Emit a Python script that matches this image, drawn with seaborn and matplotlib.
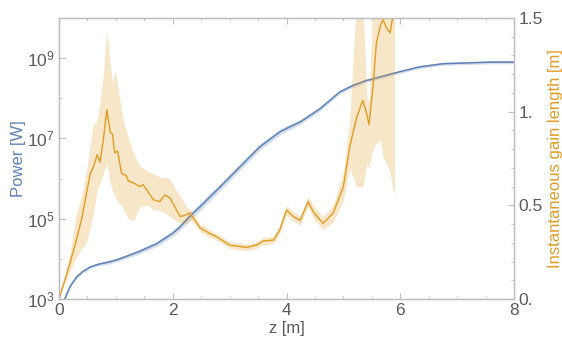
import numpy as np
import pandas as pd
import seaborn as sns
import matplotlib
matplotlib.use("Agg")
import matplotlib.pyplot as plt
from matplotlib.ticker import FixedLocator, FixedFormatter, LogFormatterMathtext, NullFormatter

# power along the undulator (log10 of W)
z_power = [0.08, 0.10, 0.20, 0.31, 0.42, 0.55, 0.70, 0.84, 1.00, 1.12, 1.42, 1.72, 2.00, 2.13,
           2.30, 2.48, 2.83, 3.18, 3.53, 3.88, 4.06, 4.24, 4.59, 4.94, 5.17, 5.40, 5.64, 5.99,
           6.34, 6.75, 7.17, 7.63, 8.00]
log_power = [2.90, 3.00, 3.33, 3.55, 3.69, 3.80, 3.87, 3.91, 3.97, 4.03, 4.19, 4.38, 4.64, 4.80,
             5.06, 5.30, 5.79, 6.29, 6.79, 7.16, 7.29, 7.41, 7.74, 8.16, 8.32, 8.44, 8.53, 8.66,
             8.78, 8.86, 8.88, 8.90, 8.90]
# half width of the power band (decades)
power_band = [0.03, 0.03, 0.03, 0.04, 0.04, 0.04, 0.04, 0.05, 0.05, 0.05, 0.06, 0.07, 0.08, 0.09,
              0.10, 0.10, 0.09, 0.09, 0.08, 0.08, 0.07, 0.06, 0.06, 0.05, 0.05, 0.04, 0.04, 0.04,
              0.04, 0.04, 0.04, 0.04, 0.04]

# instantaneous gain length [m]
z_gain = [0.00, 0.10, 0.20, 0.30, 0.40, 0.48, 0.55, 0.60, 0.67, 0.72, 0.78, 0.84, 0.90, 0.94,
          0.98, 1.03, 1.10, 1.18, 1.22, 1.31, 1.42, 1.48, 1.57, 1.66, 1.77, 1.86, 1.95, 2.04,
          2.13, 2.24, 2.30, 2.39, 2.48, 2.65, 2.77, 3.00, 3.30, 3.47, 3.59, 3.77, 3.88, 4.00,
          4.12, 4.24, 4.38, 4.47, 4.64, 4.82, 5.00, 5.11, 5.23, 5.34, 5.41, 5.45, 5.52, 5.58,
          5.65, 5.70, 5.76, 5.82, 5.86, 5.90]
gain = [0.00, 0.10, 0.20, 0.31, 0.43, 0.56, 0.67, 0.70, 0.77, 0.73, 0.85, 1.01, 0.89, 0.88,
        0.78, 0.79, 0.67, 0.66, 0.63, 0.62, 0.60, 0.61, 0.57, 0.53, 0.52, 0.555, 0.54, 0.49,
        0.44, 0.45, 0.46, 0.42, 0.38, 0.35, 0.333, 0.288, 0.276, 0.288, 0.31, 0.315, 0.368, 0.475,
        0.44, 0.42, 0.52, 0.466, 0.404, 0.458, 0.60, 0.81, 0.965, 1.06, 0.99, 0.93, 1.13, 1.365,
        1.46, 1.49, 1.445, 1.42, 1.49, 1.70]
gain_lo = [0.00, 0.08, 0.15, 0.22, 0.27, 0.30, 0.38, 0.45, 0.58, 0.62, 0.67, 0.72, 0.62, 0.58,
           0.55, 0.52, 0.50, 0.45, 0.43, 0.42, 0.49, 0.50, 0.50, 0.475, 0.475, 0.46, 0.44, 0.42,
           0.41, 0.40, 0.42, 0.40, 0.36, 0.33, 0.315, 0.27, 0.258, 0.27, 0.29, 0.295, 0.345, 0.45,
           0.415, 0.395, 0.49, 0.435, 0.37, 0.41, 0.53, 0.70, 0.60, 0.60, 0.72, 0.70, 0.80, 0.83,
           0.85, 0.75, 0.72, 0.68, 0.60, 0.55]
gain_hi = [0.00, 0.12, 0.26, 0.45, 0.55, 0.68, 0.82, 0.93, 0.95, 1.05, 1.20, 1.44, 1.25, 1.15,
           1.22, 1.15, 1.00, 0.90, 0.86, 0.78, 0.71, 0.70, 0.68, 0.67, 0.65, 0.65, 0.64, 0.59,
           0.55, 0.49, 0.48, 0.44, 0.40, 0.37, 0.35, 0.306, 0.294, 0.306, 0.33, 0.335, 0.39, 0.50,
           0.465, 0.445, 0.55, 0.50, 0.44, 0.50, 0.68, 0.95, 1.60, 1.60, 1.08, 1.05, 1.60, 1.60,
           1.60, 1.60, 1.60, 1.60, 1.60, 1.70]

x_ticks = [0, 2, 4, 6, 8]
power_ticks = [1e3, 1e5, 1e7, 1e9]
gain_ticks = [0, 0.5, 1.0, 1.5]
gain_tick_labels = ["0.", "0.5", "1.", "1.5"]

blue = "#5E81B5"
orange = "#E19C24"
frame = "#BDBDBD"
text_gray = "#5A5A5A"

sns.set_theme(style="ticks")
plt.rcParams["font.family"] = ["Liberation Sans", "DejaVu Sans"]
plt.rcParams["mathtext.fontset"] = "custom"
plt.rcParams["mathtext.rm"] = "Liberation Sans"
plt.rcParams["mathtext.it"] = "Liberation Sans"

df_p = pd.DataFrame({"z": z_power, "P": np.power(10.0, log_power)})
df_g = pd.DataFrame({"z": z_gain, "L": gain})

fig = plt.figure(figsize=(5.62, 3.45), dpi=100)
ax = fig.add_axes([0.105, 0.133, 0.8096, 0.815])
ax2 = ax.twinx()

# power
lp = np.array(log_power)
pb = np.array(power_band)
ax.fill_between(z_power, 10 ** (lp - pb), 10 ** (lp + pb), color=blue, alpha=0.25, lw=0)
sns.lineplot(data=df_p, x="z", y="P", ax=ax, color=blue, lw=1.1)
ax.set_yscale("log")
ax.set_ylim(1e3, 1e10)
ax.set_xlim(0, 8)

# gain length
ax2.fill_between(z_gain, gain_lo, gain_hi, color=orange, alpha=0.25, lw=0)
sns.lineplot(data=df_g, x="z", y="L", ax=ax2, color=orange, lw=1.0)
ax2.set_ylim(0, 1.5)
ax2.set_xlim(0, 8)

# ticks
ax.xaxis.set_major_locator(FixedLocator(x_ticks))
ax.xaxis.set_minor_locator(FixedLocator(np.arange(0, 8.01, 0.5)))
ax.yaxis.set_major_locator(FixedLocator(power_ticks))
ax.yaxis.set_minor_locator(FixedLocator([1e4, 1e6, 1e8, 1e10]))
ax.yaxis.set_major_formatter(LogFormatterMathtext())
ax.yaxis.set_minor_formatter(NullFormatter())
ax2.yaxis.set_major_locator(FixedLocator(gain_ticks))
ax2.yaxis.set_major_formatter(FixedFormatter(gain_tick_labels))
ax2.yaxis.set_minor_locator(FixedLocator(np.arange(0, 1.51, 0.1)))
ax2.yaxis.set_minor_formatter(NullFormatter())

for a in (ax, ax2):
    for s in a.spines.values():
        s.set_color(frame)
        s.set_linewidth(0.9)
    a.tick_params(which="both", direction="in", color=frame, labelcolor=text_gray,
                  labelsize=12.5, pad=3)
    a.tick_params(which="major", length=4, width=0.8)
    a.tick_params(which="minor", length=2.5, width=0.6)
ax.tick_params(axis="x", which="both", top=True)
ax.tick_params(axis="y", which="both", right=False)

ax.set_xlabel("z [m]", color=text_gray, fontsize=12, labelpad=2)
ax.set_ylabel("Power [W]", color=blue, fontsize=12, labelpad=1)
ax2.set_ylabel("Instantaneous gain length [m]", color=orange, fontsize=12, labelpad=4)
ax.grid(False)
ax2.grid(False)

fig.savefig("out.png", dpi=100)
